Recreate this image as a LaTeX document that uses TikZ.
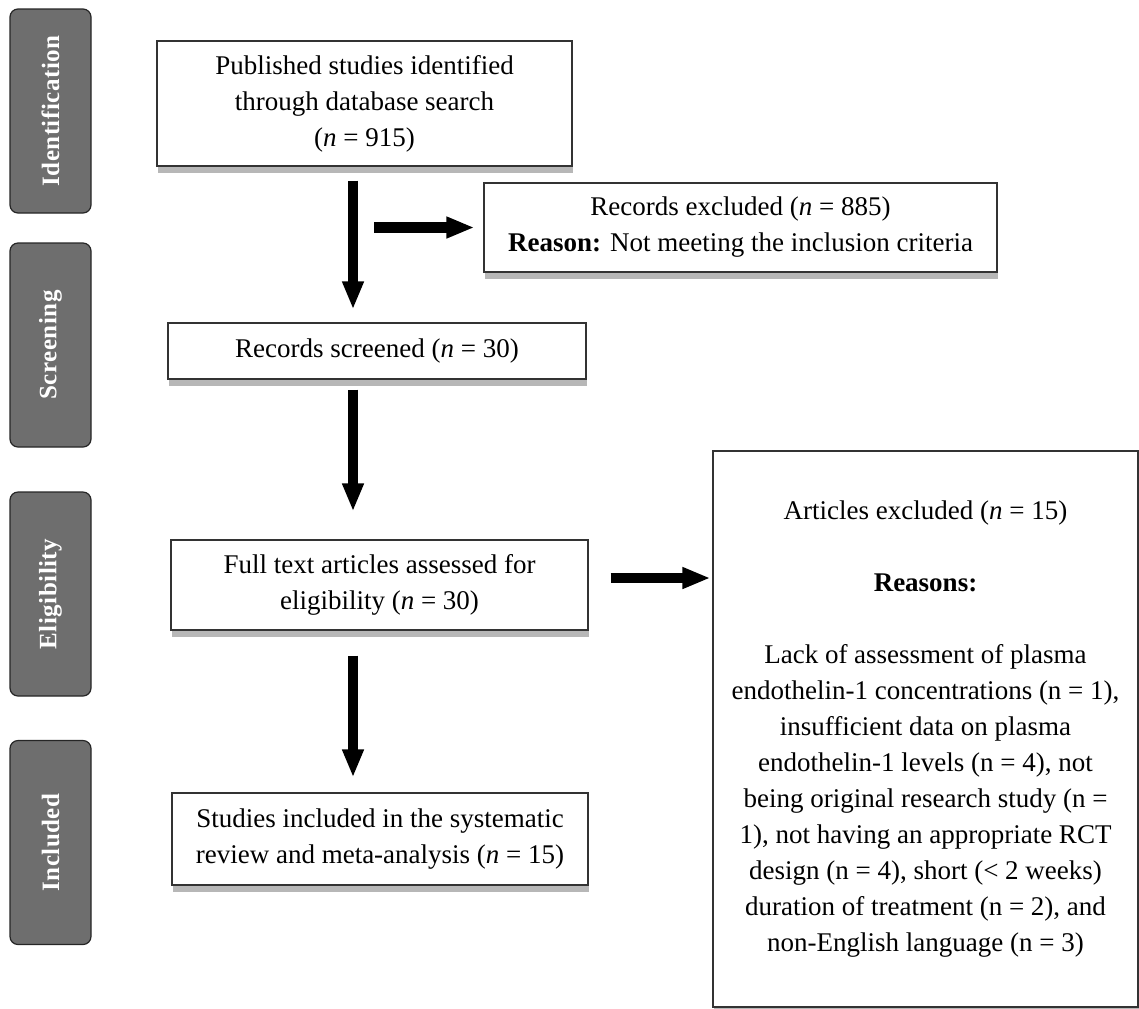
\documentclass[tikz,border=0pt]{standalone}
\usepackage{fontspec}
\setmainfont{Liberation Serif}
\newfontfamily\tabfont[LetterSpace=2]{Liberation Serif}
\usetikzlibrary{arrows.meta,shadows,positioning}

\begin{document}
\begin{tikzpicture}[x=0.5pt,y=-0.5pt]
\tikzstyle{every node}=[font=\fontsize{13.5}{18}\selectfont]
\tikzstyle{box}=[draw=black!80, fill=white, line width=0.6pt, align=center, inner sep=0pt, drop shadow={opacity=0.4, fill=black!70, shadow xshift=0.5pt, shadow yshift=-3.5pt}]
\tikzstyle{tab}=[draw=black!85, fill=black!57, rounded corners=4pt, line width=0.6pt, rotate=90, minimum width=102pt, minimum height=40.5pt, inner sep=0pt, text=white, font=\tabfont\bfseries\fontsize{12.5}{14}\selectfont]
\tikzstyle{fat}=[line width=5.25pt, -{Triangle[length=14pt,width=10pt]}]
\useasboundingbox (0,0) rectangle (1139,1008);
\node[tab] (tid) at (50.5,111) {Identification};
\node[tab] (tsc) at (50.5,345) {Screening};
\node[tab] (tel) at (50.5,594) {Eligibility};
\node[tab] (tin) at (50.5,842.5) {Included};
\node[box, minimum width=207.5pt, minimum height=62.5pt] (pub) at (364.5,103.5) {Published studies identified\\through database search\\(\textit{n} = 915)};
\node[box, minimum width=256.5pt, minimum height=44.5pt] (rex) at (740.5,227.5) {Records excluded (\textit{n} = 885)\\\textbf{Reason:} Not meeting the inclusion criteria};
\node[box, minimum width=209pt, minimum height=28pt] (scr) at (377,351) {Records screened (\textit{n} = 30)};
\node[box, minimum width=208.5pt, minimum height=45pt] (ful) at (379.5,585) {Full text articles assessed for\\eligibility (\textit{n} = 30)};
\node[box, minimum width=208pt, minimum height=46pt] (inc) at (380,839) {Studies included in the systematic\\review and meta-analysis (\textit{n} = 15)};
\node[box, minimum width=212.5pt, minimum height=278pt] (aex) at (925.5,729) {Articles excluded (\textit{n} = 15)\\[18pt]\textbf{Reasons:}\\[18pt]Lack of assessment of plasma\\endothelin-1 concentrations (n = 1),\\insufficient data on plasma\\endothelin-1 levels (n = 4), not\\being original research study (n =\\1), not having an appropriate RCT\\design (n = 4), short (< 2 weeks)\\duration of treatment (n = 2), and\\non-English language (n = 3)};
\coordinate (spine) at (353,0);
\coordinate (elig) at (0,578);
\draw[fat, shorten <=7pt, shorten >=6.5pt] (pub.south -| spine) -- (scr.north -| spine);
\draw[fat, shorten <=5pt, shorten >=14pt] (scr.south -| spine) -- (ful.north -| spine);
\draw[fat, shorten <=12.5pt, shorten >=7.5pt] (ful.south -| spine) -- (inc.north -| spine);
\draw[fat, shorten <=10.5pt, shorten >=4.5pt] (spine |- rex.west) -- (rex.west);
\draw[fat, shorten <=11pt, shorten >=1pt] (ful.east |- elig) -- (aex.west |- elig);
\end{tikzpicture}
\end{document}
